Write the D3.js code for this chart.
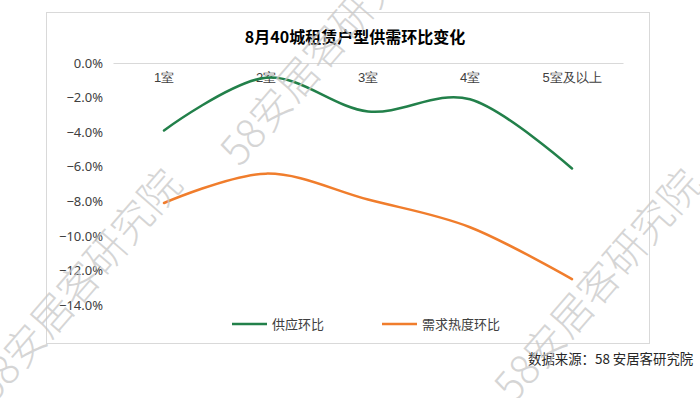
<!DOCTYPE html>
<html>
<head>
<meta charset="utf-8">
<script src="https://cdn.jsdelivr.net/npm/d3@7"></script>
<style>
  html, body { margin: 0; padding: 0; background: #fff; }
  svg { display: block; font-family: "Noto Sans CJK SC", "Noto Sans", sans-serif; }
</style>
</head>
<body>
<div id="chart"></div>
<script>
const categories = ["1室", "2室", "3室", "4室", "5室及以上"];
const supplyValues = [-3.9, -0.85, -2.8, -2.1, -6.1];
const demandValues = [-8.1, -6.4, -7.9, -9.5, -12.5];
const yTicks = [0, -2, -4, -6, -8, -10, -12, -14];
const seriesNames = ["供应环比", "需求热度环比"];
const seriesColors = ["#22804a", "#f07d2c"];

const width = 700;
const height = 398;
const margin = { top: 63, right: 77, bottom: 93, left: 113 };

const svg = d3.select("#chart")
  .append("svg")
  .attr("width", width)
  .attr("height", height);

// chart border
svg.append("rect")
  .attr("x", 46.5).attr("y", 12.5)
  .attr("width", 603).attr("height", 331)
  .attr("fill", "none")
  .attr("stroke", "#d9d9d9");

// title
svg.append("text")
  .attr("x", 355).attr("y", 43)
  .attr("text-anchor", "middle")
  .attr("font-size", 16)
  .attr("font-weight", "bold")
  .attr("fill", "#000")
  .text("8月40城租赁户型供需环比变化");

const x = d3.scaleBand()
  .domain(categories)
  .range([margin.left, width - margin.right]);

const y = d3.scaleLinear()
  .domain([0, -14])
  .range([margin.top, height - margin.bottom]);

// y axis labels
const yAxis = svg.append("g")
  .attr("transform", `translate(${margin.left},0)`)
  .call(d3.axisLeft(y).tickValues(yTicks).tickSize(0).tickPadding(10)
    .tickFormat(d => d3.format(".1f")(d) + "%"));
yAxis.select(".domain").remove();
yAxis.selectAll("text")
  .attr("font-size", 13)
  .attr("fill", "#404040")
  .attr("font-family", "'Noto Sans', 'Noto Sans CJK SC', sans-serif");

// category axis at 0
const xAxis = svg.append("g")
  .attr("transform", `translate(0,${y(0)})`)
  .call(d3.axisBottom(x).tickSize(0).tickPadding(10));
xAxis.select(".domain").attr("stroke", "#d9d9d9");
xAxis.selectAll("text")
  .attr("font-size", 13)
  .attr("fill", "#404040");

// lines
const line = d3.line()
  .x((d, i) => x(categories[i]) + x.bandwidth() / 2)
  .y(d => y(d))
  .curve(d3.curveCardinal.tension(0));

[supplyValues, demandValues].forEach((vals, i) => {
  svg.append("path")
    .datum(vals)
    .attr("fill", "none")
    .attr("stroke", seriesColors[i])
    .attr("stroke-width", 2.5)
    .attr("stroke-linecap", "round")
    .attr("d", line);
});

// legend
const legendX = [232, 382];
seriesNames.forEach((name, i) => {
  const g = svg.append("g").attr("transform", `translate(${legendX[i]},324)`);
  g.append("line")
    .attr("x1", 0).attr("x2", 35)
    .attr("stroke", seriesColors[i])
    .attr("stroke-width", 2.5);
  g.append("text")
    .attr("x", 40).attr("y", 4.5)
    .attr("font-size", 13)
    .attr("fill", "#404040")
    .text(name);
});

// source note
svg.append("text")
  .attr("x", 528).attr("y", 364)
  .attr("font-size", 13.4)
  .attr("fill", "#262626")
  .text("数据来源：58 安居客研究院");

// watermarks
const marks = [[240, 168], [-6, 404], [514, 404]];
marks.forEach(([mx, my]) => {
  svg.append("text")
    .attr("transform", `translate(${mx},${my}) rotate(-49)`)
    .attr("font-size", 41)
    .attr("font-weight", 200)
    .attr("fill", "#c8c8c8")
    .attr("fill-opacity", 0.75)
    .text("58安居客研究院");
});
</script>
</body>
</html>
